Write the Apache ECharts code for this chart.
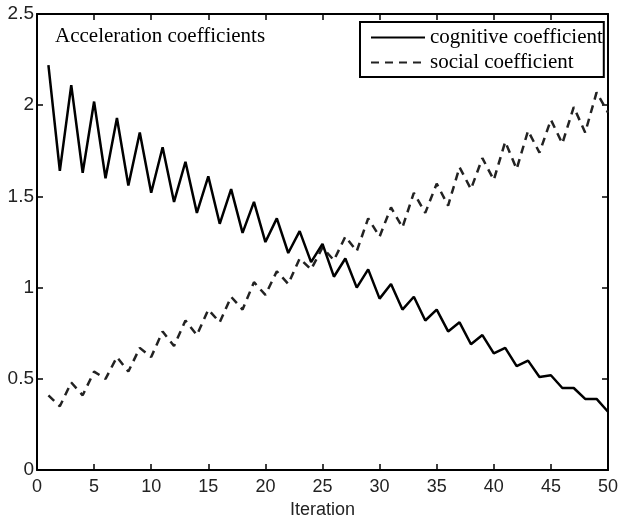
<!DOCTYPE html>
<html>
<head>
<meta charset="utf-8">
<script src="https://cdn.jsdelivr.net/npm/echarts@6/dist/echarts.min.js"></script>
<style>html,body{margin:0;padding:0;background:#fff;}#c{width:624px;height:524px;}</style>
</head>
<body>
<div id="c"></div>
<script>
var iterations = [1,2,3,4,5,6,7,8,9,10,11,12,13,14,15,16,17,18,19,20,21,22,23,24,25,26,27,28,29,30,31,32,33,34,35,36,37,38,39,40,41,42,43,44,45,46,47,48,49,50];
var cognitive = [2.22,1.64,2.11,1.63,2.02,1.60,1.93,1.56,1.85,1.52,1.77,1.47,1.69,1.41,1.61,1.35,1.54,1.30,1.47,1.25,1.38,1.19,1.31,1.14,1.24,1.06,1.16,1.00,1.10,0.94,1.02,0.88,0.95,0.82,0.88,0.76,0.81,0.69,0.74,0.64,0.67,0.57,0.60,0.51,0.52,0.45,0.45,0.39,0.39,0.32];
var social = [0.41,0.35,0.48,0.41,0.54,0.50,0.62,0.54,0.67,0.62,0.76,0.68,0.82,0.74,0.88,0.81,0.95,0.88,1.03,0.96,1.09,1.02,1.16,1.10,1.22,1.15,1.28,1.20,1.38,1.28,1.44,1.33,1.52,1.41,1.57,1.45,1.66,1.54,1.71,1.59,1.80,1.65,1.86,1.74,1.92,1.79,1.99,1.85,2.07,1.96];
var seriesNames = ['cognitive coefficient','social coefficient'];
var titleText = 'Acceleration coefficients';
var xLabel = 'Iteration';

function pairs(xs, ys){ return xs.map(function(x,i){ return [x, ys[i]]; }); }

var chart = echarts.init(document.getElementById('c'), null, {renderer:'canvas'});
var sansFont = '"Liberation Sans", Arial, sans-serif';
var serifFont = '"Liberation Serif", "Times New Roman", serif';
var axisLine = {show:true, onZero:false, lineStyle:{color:'#000', width:2}};
var tickIn = {show:true, inside:true, length:6, lineStyle:{color:'#000', width:1.5}};
chart.setOption({
  animation:false,
  backgroundColor:'#fff',
  title:{text:titleText, left:50, top:21, textStyle:{fontFamily:serifFont, fontWeight:'normal', fontSize:21, color:'#000'}},
  legend:{
    orient:'vertical', left:360, top:22,
    data:seriesNames,
    borderColor:'#000', borderWidth:2, backgroundColor:'#fff',
    padding:[5,1,4,10], itemGap:4, itemWidth:54, itemHeight:14,
    itemStyle:{opacity:0},
    textStyle:{fontFamily:serifFont, fontSize:21, color:'#000'}
  },
  grid:{left:37, right:16, top:14, bottom:53, containLabel:false},
  xAxis:[
    {type:'value', min:0, max:50, interval:5, position:'bottom',
     name:xLabel, nameLocation:'middle', nameGap:30,
     nameTextStyle:{fontFamily:sansFont, fontSize:18, color:'#222'},
     axisLine:axisLine, axisTick:tickIn, splitLine:{show:false},
     axisLabel:{fontFamily:sansFont, fontSize:18, color:'#222', margin:8}},
    {type:'value', min:0, max:50, interval:5, position:'top',
     axisLine:axisLine, axisTick:tickIn, splitLine:{show:false}, axisLabel:{show:false}}
  ],
  yAxis:[
    {type:'value', min:0, max:2.5, interval:0.5, position:'left',
     axisLine:axisLine, axisTick:tickIn, splitLine:{show:false},
     axisLabel:{fontFamily:sansFont, fontSize:19, color:'#222', margin:3}},
    {type:'value', min:0, max:2.5, interval:0.5, position:'right',
     axisLine:axisLine, axisTick:tickIn, splitLine:{show:false}, axisLabel:{show:false}}
  ],
  series:[
    {name:seriesNames[0], type:'line', data:pairs(iterations, cognitive), showSymbol:false, symbol:'none',
     lineStyle:{color:'#000', width:2.5, type:'solid'}, itemStyle:{color:'#000'}, z:3},
    {name:seriesNames[1], type:'line', data:pairs(iterations, social), showSymbol:false, symbol:'none',
     lineStyle:{color:'#222', width:2.5, type:[8,6]}, itemStyle:{color:'#222'}, z:2}
  ]
});
</script>
</body>
</html>
